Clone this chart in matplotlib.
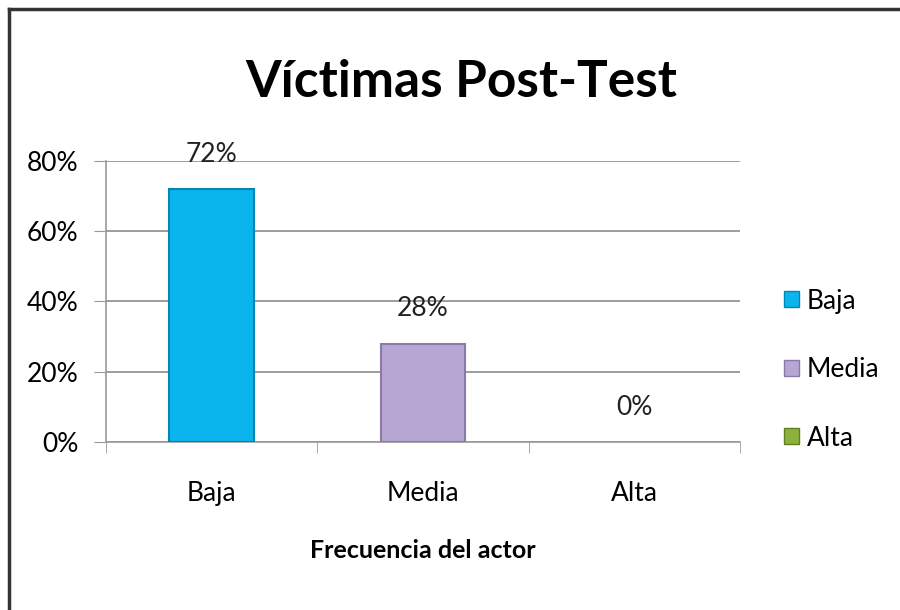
import matplotlib
matplotlib.use("Agg")
from matplotlib import pyplot as plt
from matplotlib.lines import Line2D
from matplotlib.patches import Patch

categorias = ["Baja", "Media", "Alta"]
valores = [0.72, 0.28, 0.0]
etiquetas = ["72%", "28%", "0%"]
colores = ["#0ab4ec", "#b7a6d3", "#8db03a"]
bordes = ["#0386b3", "#8b7aa8", "#5f7f22"]
yticks = [0, 0.2, 0.4, 0.6, 0.8]
ytick_labels = ["0%", "20%", "40%", "60%", "80%"]

plt.rcParams['font.family'] = ['Lato', 'DejaVu Sans']

fig = plt.figure(figsize=(9, 6.1), dpi=100)
ax = fig.add_axes([0.1178, 0.2754, 0.7044, 0.4607])

x = range(len(categorias))
anchos = [1.5 if v > 0 else 0 for v in valores]
bars = ax.bar(x, valores, width=0.40, color=colores, edgecolor=bordes,
              linewidth=anchos, zorder=3)

for xi, v, t in zip(x, valores, etiquetas):
    ax.annotate(t, (xi, v), xytext=(0, 25), textcoords="offset points",
                ha="center", va="center", fontsize=19, color="#222222")

ax.set_xlim(-0.5, 2.5)
ax.set_ylim(0, 0.8)
ax.set_yticks(yticks)
ax.set_yticklabels(ytick_labels, fontsize=19)
ax.set_xticks(list(x))
ax.set_xticklabels(categorias, fontsize=19)
ax.set_xticks([-0.5, 0.5, 1.5, 2.5], minor=True)
ax.tick_params(axis="x", which="major", length=0, pad=28)
ax.tick_params(axis="x", which="minor", length=8, color="#999999")
ax.tick_params(axis="y", length=9, color="#999999", pad=11)
ax.yaxis.grid(True, color="#8c8c8c", linewidth=1.2, zorder=0)
ax.set_axisbelow(True)
for s in ["top", "right"]:
    ax.spines[s].set_visible(False)
for s in ["left", "bottom"]:
    ax.spines[s].set_color("#999999")
    ax.spines[s].set_linewidth(1.2)

ax.set_xlabel("Frecuencia del actor", fontsize=18, fontweight="bold",
              labelpad=24)

fig.text(0.513, 0.865, "Víctimas Post-Test", ha="center", va="center",
         fontsize=37, fontweight="bold", color="black")

handles = [Patch(facecolor=c, edgecolor=b) for c, b in zip(colores, bordes)]
fig.legend(handles, categorias, loc="center left",
           bbox_to_anchor=(0.845, 0.394), frameon=False, fontsize=19,
           handlelength=0.55, handleheight=0.55, handletextpad=0.3,
           labelspacing=1.65)

# marco del grafico (solo arriba e izquierda)
fig.add_artist(Line2D([0.0105, 1.0], [0.986, 0.986], color="#333333",
                      linewidth=2.5, transform=fig.transFigure))
fig.add_artist(Line2D([0.0105, 0.0105], [0.0, 0.986], color="#333333",
                      linewidth=2.5, transform=fig.transFigure))

fig.savefig("out.png", dpi=100, facecolor="white")
